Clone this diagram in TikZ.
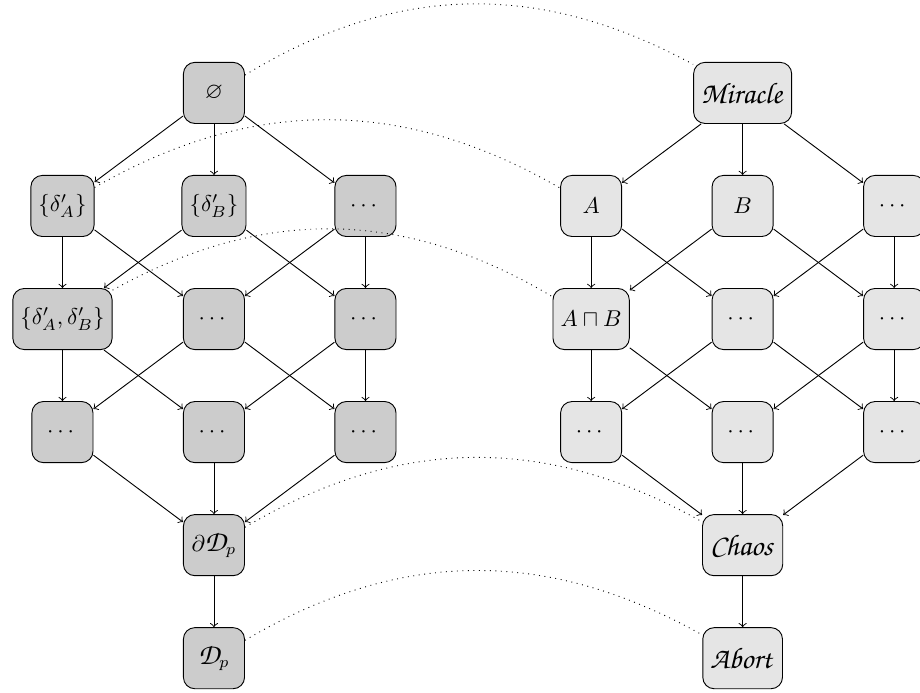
\documentclass[tikz,border=0pt]{standalone}
\usepackage{tikz}
\usepackage{amsmath}
\usepackage{amssymb}
\usetikzlibrary{arrows}
\DeclareFontFamily{OT1}{pzcs}{}
\DeclareFontShape{OT1}{pzcs}{m}{it}{<-> s*[1.3] pzcmi7t}{}
\DeclareMathAlphabet{\mathpzc}{OT1}{pzcs}{m}{it}
\tikzstyle{lset} = [rectangle, rounded corners=5pt, minimum width=26.7pt, minimum height=26.7pt, text centered, draw=black, fill=black!20]
\tikzstyle{rset} = [rectangle, rounded corners=5pt, minimum width=26.7pt, minimum height=26.7pt, text centered, draw=black, fill=black!10]
\tikzstyle{arrow} = [->]
\tikzstyle{link} = [dotted, bend left=30]

\begin{document}
\begin{tikzpicture}[node distance=49.4pt]
\useasboundingbox (-93.5pt,40.6pt) rectangle (308.5pt,-261.8pt);
% left lattice
\node(empty)[lset]{$\varnothing$};
\node(da)[lset, below of=empty, xshift=-66.2pt]{$\{\delta'_A\}$};
\node(db)[lset, below of=empty]{$\{\delta'_B\}$};
\node(l23)[lset, below of=empty, xshift=66.2pt]{$\cdots$};
\node(dab)[lset, below of=da]{$\{\delta'_A,\delta'_B\}$};
\node(l32)[lset, below of=db]{$\cdots$};
\node(l33)[lset, below of=l23]{$\cdots$};
\node(l41)[lset, below of=dab]{$\cdots$};
\node(l42)[lset, below of=l32]{$\cdots$};
\node(l43)[lset, below of=l33]{$\cdots$};
\node(bdp)[lset, below of=l42]{$\partial\mathpzc{D}_p$};
\node(dp)[lset, below of=bdp]{$\mathpzc{D}_p$};
\draw[arrow] (empty) -- (da);
\draw[arrow] (empty) -- (db);
\draw[arrow] (empty) -- (l23);
\draw[arrow] (da) -- (dab);
\draw[arrow] (da) -- (l32);
\draw[arrow] (db) -- (dab);
\draw[arrow] (db) -- (l33);
\draw[arrow] (l23) -- (l32);
\draw[arrow] (l23) -- (l33);
\draw[arrow] (dab) -- (l41);
\draw[arrow] (dab) -- (l42);
\draw[arrow] (l32) -- (l41);
\draw[arrow] (l32) -- (l43);
\draw[arrow] (l33) -- (l42);
\draw[arrow] (l33) -- (l43);
\draw[arrow] (l41) -- (bdp);
\draw[arrow] (l42) -- (bdp);
\draw[arrow] (l43) -- (bdp);
\draw[arrow] (bdp) -- (dp);

% right lattice
\node(mir)[rset, right of=empty, node distance=231pt]{$\mathpzc{Miracle}$};
\node(a)[rset, below of=mir, xshift=-66.2pt]{$A$};
\node(b)[rset, below of=mir]{$B$};
\node(r23)[rset, below of=mir, xshift=66.2pt]{$\cdots$};
\node(ab)[rset, below of=a]{$A\sqcap B$};
\node(r32)[rset, below of=b]{$\cdots$};
\node(r33)[rset, below of=r23]{$\cdots$};
\node(r41)[rset, below of=ab]{$\cdots$};
\node(r42)[rset, below of=r32]{$\cdots$};
\node(r43)[rset, below of=r33]{$\cdots$};
\node(chaos)[rset, below of=r42]{$\mathpzc{Chaos}$};
\node(abort)[rset, below of=chaos]{$\mathpzc{Abort}$};
\draw[arrow] (mir) -- (a);
\draw[arrow] (mir) -- (b);
\draw[arrow] (mir) -- (r23);
\draw[arrow] (a) -- (ab);
\draw[arrow] (a) -- (r32);
\draw[arrow] (b) -- (ab);
\draw[arrow] (b) -- (r33);
\draw[arrow] (r23) -- (r32);
\draw[arrow] (r23) -- (r33);
\draw[arrow] (ab) -- (r41);
\draw[arrow] (ab) -- (r42);
\draw[arrow] (r32) -- (r41);
\draw[arrow] (r32) -- (r43);
\draw[arrow] (r33) -- (r42);
\draw[arrow] (r33) -- (r43);
\draw[arrow] (r41) -- (chaos);
\draw[arrow] (r42) -- (chaos);
\draw[arrow] (r43) -- (chaos);
\draw[arrow] (chaos) -- (abort);

% correspondence
\draw[link] (empty) to (mir);
\draw[link] (da) to (a);
\draw[link] (dab) to (ab);
\draw[link] (bdp) to (chaos);
\draw[link] (dp) to (abort);

\end{tikzpicture}
\end{document}
